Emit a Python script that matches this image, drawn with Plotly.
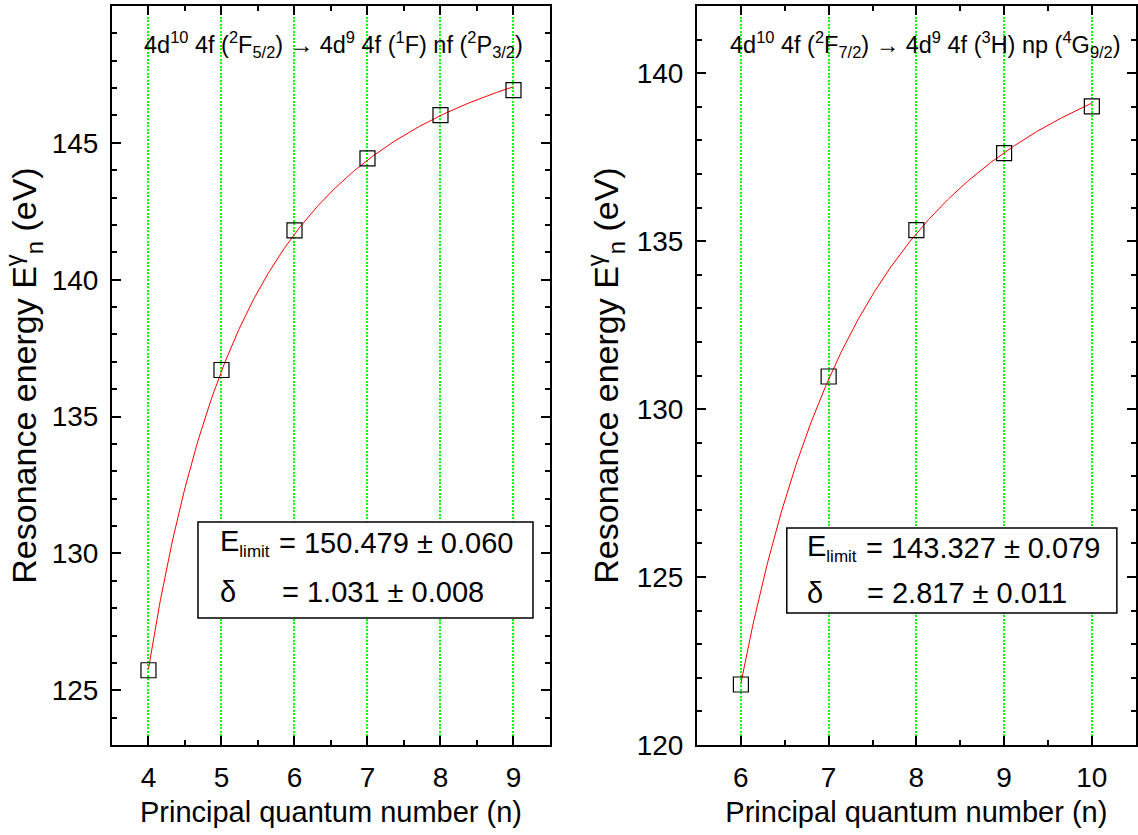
import numpy as np
import plotly.graph_objects as go
from plotly.subplots import make_subplots

# Measured resonance energies (eV) for the two Rydberg series
n_left = [4, 5, 6, 7, 8, 9]
e_left = [125.73, 136.70, 141.80, 144.43, 146.01, 146.93]
n_right = [6, 7, 8, 9, 10]
e_right = [121.80, 130.97, 135.33, 137.62, 139.01]

# Quantum-defect fit parameters (eV, dimensionless)
elimit_left, delta_left = 150.479, 1.031
elimit_right, delta_right = 143.327, 2.817
RYD = 13.6057          # Rydberg energy, eV
Q = 4                  # ionic charge seen by the Rydberg electron

titles = [
    "4d<sup>10</sup> 4f (<sup>2</sup>F<sub>5/2</sub>) → 4d<sup>9</sup> 4f (<sup>1</sup>F) nf (<sup>2</sup>P<sub>3/2</sub>)",
    "4d<sup>10</sup> 4f (<sup>2</sup>F<sub>7/2</sub>) → 4d<sup>9</sup> 4f (<sup>3</sup>H) np (<sup>4</sup>G<sub>9/2</sub>)",
]
ELIM = "E<sub><span style='font-size:17px'>limit</span></sub>"
fit_text = [
    (ELIM, "= 150.479 ± 0.060", "δ", "= 1.031 ± 0.008"),
    (ELIM, "= 143.327 ± 0.079", "δ", "= 2.817 ± 0.011"),
]

FONT = "Liberation Sans, Arial, sans-serif"


def rydberg(n, elimit, delta):
    n = np.asarray(n, dtype=float)
    return elimit - RYD * Q ** 2 / (n - delta) ** 2


fig = make_subplots(rows=1, cols=2)

for col, (ns, es, el, dl) in enumerate(
    [(n_left, e_left, elimit_left, delta_left),
     (n_right, e_right, elimit_right, delta_right)], start=1):
    nfit = np.linspace(ns[0], ns[-1], 300)
    fig.add_trace(go.Scatter(x=nfit, y=rydberg(nfit, el, dl), mode="lines",
                             line=dict(color="red", width=1), showlegend=False,
                             hoverinfo="skip"), row=1, col=col)
    fig.add_trace(go.Scatter(x=ns, y=es, mode="markers",
                             marker=dict(symbol="square-open", size=15, color="black",
                                         line=dict(width=1.2, color="black")),
                             showlegend=False), row=1, col=col)

axis_common = dict(
    showline=True, linecolor="black", linewidth=2, mirror="ticks",
    ticks="inside", ticklen=9, tickwidth=2, tickcolor="black",
    tickfont=dict(family=FONT, size=28, color="black"),
    zeroline=False, automargin=False,
)

fig.update_xaxes(**axis_common)
fig.update_yaxes(**axis_common)

fig.update_xaxes(showgrid=True, gridcolor="#00ff00", griddash="2px,1.5px", gridwidth=1.5,
                 dtick=1, minor=dict(dtick=0.5, ticks="inside", ticklen=5, tickwidth=2,
                                     tickcolor="black", showgrid=False),
                 title=dict(text="Principal quantum number (n)", standoff=10,
                            font=dict(family=FONT, size=29, color="black")),
                 ticklabelstandoff=6)
fig.update_yaxes(showgrid=False, dtick=5,
                 minor=dict(dtick=1, ticks="inside", ticklen=5, tickwidth=2,
                            tickcolor="black", showgrid=False),
                 title=dict(text="Resonance energy E<sup>γ</sup><sub>n</sub> (eV)", standoff=8,
                            font=dict(family=FONT, size=34, color="black")),
                 ticklabelstandoff=6)

fig.update_xaxes(range=[3.5, 9.5], domain=[0.0984, 0.4833], row=1, col=1)
fig.update_yaxes(range=[123, 150], tick0=125, row=1, col=1)
fig.update_xaxes(range=[5.5, 10.5], domain=[0.6125, 0.998], row=1, col=2)
fig.update_yaxes(range=[120, 142], tick0=120, row=1, col=2)
fig.update_yaxes(domain=[0.1078, 0.9928])

# Panel headings
for xref, yref, text in [("x domain", "y domain", titles[0]),
                         ("x2 domain", "y2 domain", titles[1])]:
    fig.add_annotation(x=0.505 if xref.startswith("x ") else 0.52, y=0.948,
                       xref=xref, yref=yref, text=text, showarrow=False,
                       xanchor="center", yanchor="middle",
                       font=dict(family=FONT, size=23.5, color="black"))

# Fit-result boxes
boxes = [
    dict(xref="x", yref="y", x0=4.678, x1=9.267, y0=127.64, y1=131.15,
         xe=4.95, xeq=5.76, xeq2=5.80, ya=130.38, yb=128.59),
    dict(xref="x2", yref="y2", x0=6.523, x1=10.285, y0=123.93, y1=126.46,
         xe=6.727, xeq=7.40, xeq2=7.42, ya=125.86, yb=124.53),
]
for b, (e_lab, e_val, d_lab, d_val) in zip(boxes, fit_text):
    fig.add_shape(type="rect", xref=b["xref"], yref=b["yref"],
                  x0=b["x0"], x1=b["x1"], y0=b["y0"], y1=b["y1"],
                  line=dict(color="black", width=1.5), fillcolor="white", layer="above")
    for xx, yy, txt in [(b["xe"], b["ya"], e_lab), (b["xeq"], b["ya"], e_val),
                        (b["xe"], b["yb"], d_lab), (b["xeq2"], b["yb"], d_val)]:
        fig.add_annotation(x=xx, y=yy, xref=b["xref"], yref=b["yref"], text=txt,
                           showarrow=False, xanchor="left", yanchor="middle",
                           font=dict(family=FONT, size=29, color="black"))

fig.update_layout(
    width=1138, height=835,
    margin=dict(l=0, r=0, t=0, b=0),
    paper_bgcolor="white", plot_bgcolor="white",
    font=dict(family=FONT, color="black"),
)

fig.write_html("out.html")
